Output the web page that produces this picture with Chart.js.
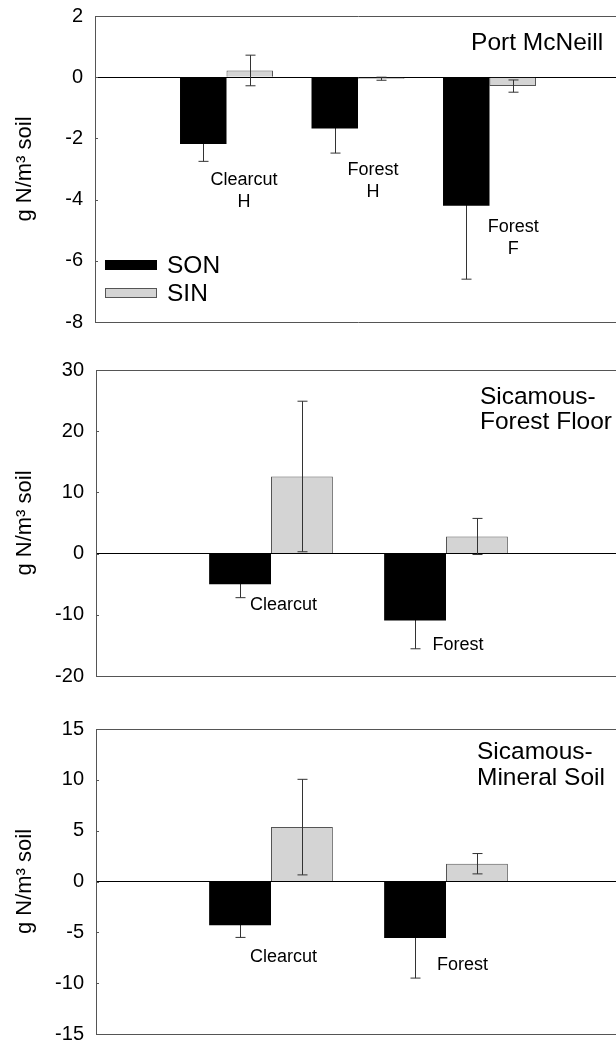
<!DOCTYPE html>
<html>
<head>
<meta charset="utf-8">
<script src="https://cdn.jsdelivr.net/npm/chart.js@4.4.0/dist/chart.umd.min.js"></script>
<style>
  html, body { margin: 0; padding: 0; width: 616px; height: 1047px; overflow: hidden; background: #fff; position: relative; }
  .panel { position: absolute; left: 0; }
</style>
</head>
<body>
<canvas id="c1" class="panel" width="630" height="358" style="top:-10px"></canvas>
<canvas id="c2" class="panel" width="630" height="358" style="top:344px"></canvas>
<canvas id="c3" class="panel" width="630" height="357" style="top:703px"></canvas>
<script>
// Port McNeill
const portCats = ['', 'Clearcut H', 'Forest H', 'Forest F', ''];
const portSON = [null, -2.18, -1.68, -4.2, null];
const portSONErr = [null, 0.57, 0.8, 2.4, null];
const portSIN = [null, 0.22, -0.05, -0.29, null];
const portSINErr = [null, 0.5, 0.05, 0.2, null];
const portTicks = [-8, -6, -4, -2, 0, 2];

// Sicamous - forest floor
const floorCats = ['', 'Clearcut', 'Forest', ''];
const floorSON = [null, -5.0, -10.95, null];
const floorSONErr = [null, 2.2, 4.6, null];
const floorSIN = [null, 12.6, 2.8, null];
const floorSINErr = [null, 12.3, 2.95, null];
const floorTicks = [-20, -10, 0, 10, 20, 30];

// Sicamous - mineral soil
const mineralCats = ['', 'Clearcut', 'Forest', ''];
const mineralSON = [null, -4.3, -5.55, null];
const mineralSONErr = [null, 1.2, 3.95, null];
const mineralSIN = [null, 5.35, 1.75, null];
const mineralSINErr = [null, 4.7, 1.0, null];
const mineralTicks = [-15, -10, -5, 0, 5, 10, 15];

const FONT = "'Liberation Sans', Arial, sans-serif";

// error bars: SON whiskers go behind the black bars, SIN ones on top
const errorBars = {
  id: 'errorBars',
  drawErrs(chart, behind) {
    const ctx = chart.ctx;
    const y = chart.scales.y;
    chart.data.datasets.forEach((ds, di) => {
      if (!!ds.errBehind !== behind) return;
      const meta = chart.getDatasetMeta(di);
      ds.data.forEach((v, i) => {
        if (v === null || ds.errors[i] === null) return;
        const x = Math.round(meta.data[i].x) + 0.5;
        const top = y.getPixelForValue(v + ds.errors[i]);
        const bot = y.getPixelForValue(v - ds.errors[i]);
        ctx.save();
        ctx.strokeStyle = '#333';
        ctx.lineWidth = 1;
        ctx.beginPath();
        ctx.moveTo(x, top); ctx.lineTo(x, bot);
        ctx.moveTo(x - 5, top); ctx.lineTo(x + 5, top);
        ctx.moveTo(x - 5, bot); ctx.lineTo(x + 5, bot);
        ctx.stroke();
        ctx.restore();
      });
    });
  },
  beforeDatasetsDraw(chart) { this.drawErrs(chart, true); },
  afterDatasetsDraw(chart) { this.drawErrs(chart, false); }
};

// inward tick marks, text notes, panel titles and the legend (data coordinates)
const notesPlugin = {
  id: 'notes',
  afterDraw(chart, args, opts) {
    const ctx = chart.ctx;
    const xs = chart.scales.x, ys = chart.scales.y;
    const px = v => xs.left + v * (xs.right - xs.left) / (chart.data.labels.length - 1);
    ctx.save();
    ctx.strokeStyle = '#555';
    ctx.lineWidth = 1;
    ctx.beginPath();
    ys.ticks.forEach(t => {
      const ty = Math.round(ys.getPixelForValue(t.value)) + 0.5;
      ctx.moveTo(ys.right, ty); ctx.lineTo(ys.right + 3, ty);
    });
    ctx.stroke();
    ctx.fillStyle = '#000';
    ctx.textBaseline = 'middle';
    (opts.notes || []).forEach(n => {
      ctx.font = n.size + 'px ' + FONT;
      ctx.textAlign = n.align || 'center';
      n.lines.forEach((t, k) => ctx.fillText(t, px(n.x), ys.getPixelForValue(n.y) + k * n.gap));
    });
    if (opts.legend) {
      const lg = opts.legend;
      const lx = px(lg.x), ly = ys.getPixelForValue(lg.y);
      lg.items.forEach((it, k) => {
        const cy = Math.round(ly + k * 28);
        ctx.fillStyle = it.color;
        ctx.fillRect(lx, cy - 5, 52, 10);
        ctx.strokeStyle = it.border;
        ctx.lineWidth = 1;
        ctx.strokeRect(Math.round(lx) + 0.5, cy - 4.5, 51, 9);
        ctx.fillStyle = '#000';
        ctx.font = '24.5px ' + FONT;
        ctx.textAlign = 'left';
        ctx.fillText(it.label, lx + 62, cy + 1);
      });
    }
    ctx.restore();
  }
};

function makePanel(id, cats, son, sonErr, sin, sinErr, ticks, axisWidth, notes, legend) {
  const lo = ticks[0], hi = ticks[ticks.length - 1];
  new Chart(document.getElementById(id), {
    type: 'bar',
    data: {
      labels: cats,
      datasets: [
        { label: 'SON', data: son, errors: sonErr, errBehind: true,
          backgroundColor: '#000', borderWidth: 0 },
        { label: 'SIN', data: sin, errors: sinErr,
          backgroundColor: '#d4d4d4', borderColor: '#555', borderWidth: 1 }
      ]
    },
    options: {
      responsive: false,
      animation: false,
      datasets: { bar: { categoryPercentage: 0.707, barPercentage: 1.0 } },
      layout: { padding: { top: 26, bottom: 26, left: 0, right: 9 } },
      plugins: {
        legend: { display: false },
        tooltip: { enabled: false },
        notes: { notes: notes, legend: legend }
      },
      scales: {
        x: { type: 'category', offset: false, display: false },
        y: {
          min: lo, max: hi,
          afterBuildTicks: s => { s.ticks = ticks.map(v => ({ value: v })); },
          afterFit: s => { s.width = axisWidth; },
          border: { display: true, color: '#555', width: 1 },
          grid: {
            drawTicks: false,
            lineWidth: 1,
            color: c => {
              if (!c.tick) return 'rgba(0,0,0,0)';
              if (c.tick.value === 0) return '#000';
              if (c.tick.value === lo || c.tick.value === hi) return '#555';
              return 'rgba(0,0,0,0)';
            }
          },
          ticks: { color: '#000', padding: 12, font: { family: FONT, size: 20 } },
          title: {
            display: true, text: 'g N/m³ soil', color: '#000',
            font: { family: FONT, size: 22 }, padding: { top: 12, bottom: 0 }
          }
        }
      }
    },
    plugins: [errorBars, notesPlugin]
  });
}

makePanel('c1', portCats, portSON, portSONErr, portSIN, portSINErr, portTicks, 95,
  [
    { lines: ['Clearcut', 'H'], x: 1.133, y: -3.37, gap: 22, size: 18 },
    { lines: ['Forest', 'H'], x: 2.114, y: -3.04, gap: 22, size: 18 },
    { lines: ['Forest', 'F'], x: 3.18, y: -4.9, gap: 22, size: 18 },
    { lines: ['Port McNeill'], x: 2.86, y: 1.11, gap: 0, size: 24.5, align: 'left' }
  ],
  { x: 0.076, y: -6.14, items: [
    { label: 'SON', color: '#000', border: '#000' },
    { label: 'SIN', color: '#d4d4d4', border: '#555' }
  ] });

makePanel('c2', floorCats, floorSON, floorSONErr, floorSIN, floorSINErr, floorTicks, 96,
  [
    { lines: ['Clearcut'], x: 1.071, y: -8.45, gap: 0, size: 18 },
    { lines: ['Forest'], x: 2.069, y: -14.97, gap: 0, size: 18 },
    { lines: ['Sicamous-', 'Forest Floor'], x: 2.194, y: 25.6, gap: 25, size: 24.5, align: 'left' }
  ], null);

makePanel('c3', mineralCats, mineralSON, mineralSONErr, mineralSIN, mineralSINErr, mineralTicks, 96,
  [
    { lines: ['Clearcut'], x: 1.071, y: -7.4, gap: 0, size: 18 },
    { lines: ['Forest'], x: 2.094, y: -8.18, gap: 0, size: 18 },
    { lines: ['Sicamous-', 'Mineral Soil'], x: 2.177, y: 12.75, gap: 26, size: 24.5, align: 'left' }
  ], null);
</script>
</body>
</html>
